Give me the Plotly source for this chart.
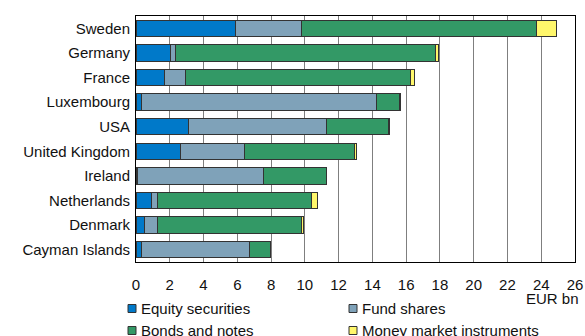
import plotly.graph_objects as go

countries = ["Sweden", "Germany", "France", "Luxembourg", "USA",
             "United Kingdom", "Ireland", "Netherlands", "Denmark", "Cayman Islands"]

equity = [5.9, 2.03, 1.7, 0.3, 3.12, 2.63, 0.08, 0.93, 0.49, 0.34]
fund = [3.9, 0.32, 1.22, 13.94, 8.14, 3.79, 7.48, 0.35, 0.77, 6.37]
bonds = [13.9, 15.4, 13.33, 1.38, 3.71, 6.53, 3.7, 9.12, 8.57, 1.23]
money = [1.2, 0.15, 0.24, 0.04, 0.03, 0.12, 0.03, 0.36, 0.1, 0.0]

series = [
    ("Equity securities", equity, "#0079c9"),
    ("Fund shares", fund, "#7fa2b9"),
    ("Bonds and notes", bonds, "#339966"),
    ("Money market instruments", money, "#fff76b"),
]

# Pixel geometry of the plotting area
W, H = 585, 336
L, R, T, B = 136, 10, 16, 74
PW, PH = W - L - R, H - T - B


def px_x(px):
    return (px - L) / PW


def px_y(py):
    return (H - B - py) / PH


fig = go.Figure()
for name, vals, color in series:
    fig.add_trace(go.Bar(
        y=countries, x=vals, name=name, orientation="h", showlegend=False,
        marker=dict(color=color, line=dict(color="#333333", width=1)),
    ))

# Two-column key below the axis
key_pos = [(128, 304.5), (349, 304.5), (128, 326.5), (349, 326.5)]
shapes, annotations = [], []
for (name, _, color), (kx, ky) in zip(series, key_pos):
    shapes.append(dict(
        type="rect", xref="paper", yref="paper",
        x0=px_x(kx), x1=px_x(kx + 8), y0=px_y(ky + 8), y1=px_y(ky),
        fillcolor=color, line=dict(color="#333333", width=1),
    ))
    annotations.append(dict(
        text=name, xref="paper", yref="paper", x=px_x(kx + 11), y=px_y(ky + 4),
        xanchor="left", yanchor="middle", showarrow=False, font=dict(size=15),
    ))

annotations.append(dict(
    text="EUR bn", xref="paper", yref="paper", x=px_x(581), y=px_y(298),
    xanchor="right", yanchor="middle", showarrow=False, font=dict(size=15),
))

fig.update_layout(
    width=W, height=H,
    barmode="stack", bargap=0.34,
    margin=dict(l=L, r=R, t=T, b=B, autoexpand=False),
    plot_bgcolor="white", paper_bgcolor="white",
    font=dict(family="Liberation Sans, Arial, sans-serif", size=15, color="#111111"),
    shapes=shapes, annotations=annotations,
)
fig.update_xaxes(
    range=[0, 26], dtick=2, tick0=0, showgrid=True, gridcolor="#7f7f7f",
    gridwidth=1, showline=True, linecolor="black", linewidth=1, mirror=True,
    ticks="", zeroline=False, ticklabelstandoff=9,
)
fig.update_yaxes(
    autorange="reversed", showline=True, linecolor="black", linewidth=1,
    mirror=True, ticks="", showgrid=False, ticklabelstandoff=2,
)

fig.write_html("out.html")
